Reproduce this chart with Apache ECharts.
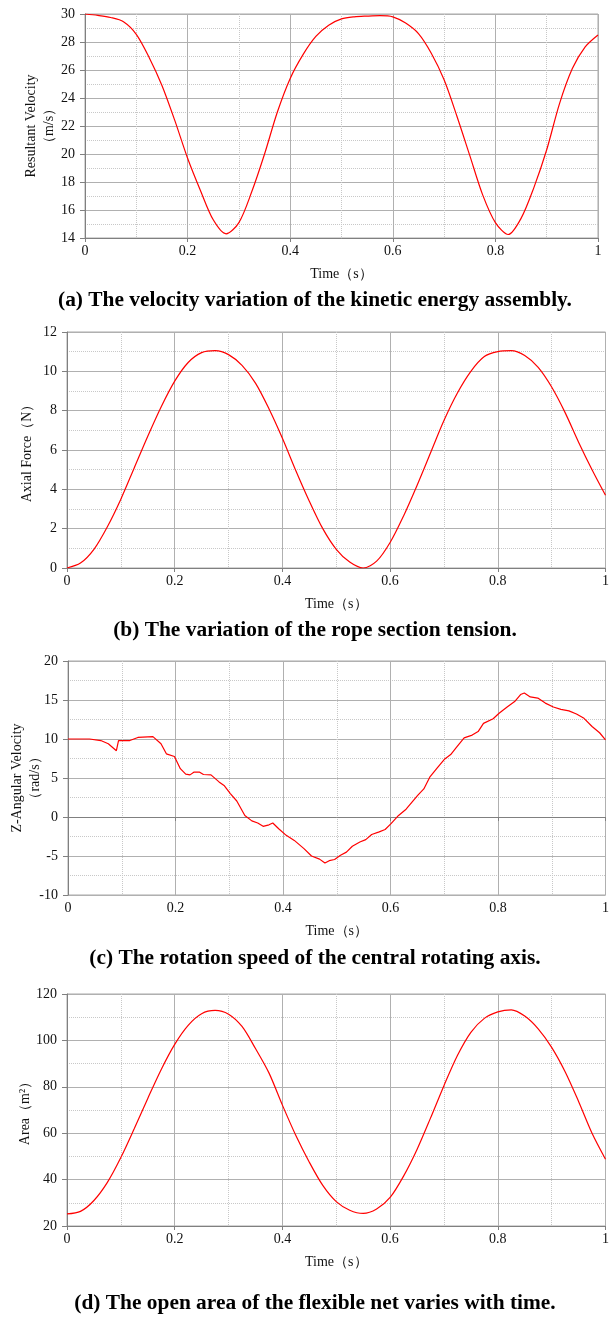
<!DOCTYPE html>
<html>
<head>
<meta charset="utf-8">
<script src="https://cdn.jsdelivr.net/npm/echarts@6/dist/echarts.min.js"></script>
<style>
  html, body { margin: 0; padding: 0; background: #fff; }
  #chart { width: 612px; height: 1317px; }
</style>
</head>
<body>
<div id="chart"></div>
<script>
// time samples (s) for panels a, b, d
const timeSteps = [0, 0.025, 0.05, 0.075, 0.1, 0.125, 0.15, 0.175, 0.2, 0.225, 0.25, 0.275, 0.3, 0.325, 0.35, 0.375, 0.4, 0.425, 0.45, 0.475, 0.5,
  0.525, 0.55, 0.575, 0.6, 0.625, 0.65, 0.675, 0.7, 0.725, 0.75, 0.775, 0.8, 0.825, 0.85, 0.875, 0.9, 0.925, 0.95, 0.975, 1.0]

// (a) resultant velocity, m/s
const velocity = [30.0, 29.9, 29.75, 29.45, 28.55, 26.9, 24.9, 22.4, 19.7, 17.4, 15.3, 14.3, 15.1, 17.3, 20.0, 23.0, 25.4, 27.1, 28.4, 29.2, 29.65,
  29.8, 29.85, 29.88, 29.8, 29.35, 28.6, 27.2, 25.3, 22.7, 19.9, 17.1, 15.1, 14.25, 15.4, 17.6, 20.3, 23.6, 26.1, 27.65, 28.5]

// (b) axial force, N
const axialForce = [0, 0.25, 0.95, 2.1, 3.5, 5.1, 6.7, 8.2, 9.5, 10.45, 10.95, 11.05, 10.85, 10.3, 9.4, 8.1, 6.6, 4.95, 3.4, 2.0, 0.95,
  0.3, 0.0, 0.35, 1.3, 2.65, 4.2, 5.85, 7.5, 8.9, 10.0, 10.75, 11.0, 11.05, 10.8, 10.2, 9.2, 7.9, 6.4, 5.0, 3.7]

// (c) z angular velocity, rad/s (irregular samples)
const timeC = [0, 0.04, 0.061, 0.075, 0.09, 0.094, 0.115, 0.13, 0.158, 0.173, 0.183, 0.198, 0.209, 0.219, 0.227, 0.234, 0.245, 0.252, 0.266,
  0.281, 0.291, 0.302, 0.314, 0.329, 0.342, 0.353, 0.363, 0.374, 0.381, 0.392, 0.406, 0.421, 0.439, 0.453, 0.468, 0.478, 0.486, 0.496,
  0.507, 0.518, 0.529, 0.543, 0.554, 0.565, 0.579, 0.59, 0.601, 0.615, 0.629, 0.64, 0.651, 0.662, 0.673, 0.687, 0.701, 0.712, 0.723,
  0.737, 0.752, 0.763, 0.773, 0.791, 0.802, 0.817, 0.831, 0.842, 0.849, 0.86, 0.874, 0.888, 0.903, 0.917, 0.932, 0.946, 0.96, 0.975, 0.989, 1.0]
const angularVelocity = [10, 10, 9.8, 9.4, 8.5, 9.8, 9.8, 10.2, 10.3, 9.4, 8.1, 7.75, 6.2, 5.5, 5.4, 5.75, 5.75, 5.45, 5.4,
  4.5, 4.0, 3.0, 2.05, 0.2, -0.5, -0.77, -1.2, -1.0, -0.77, -1.5, -2.35, -3.0, -4.05, -5.0, -5.4, -5.9, -5.6, -5.45,
  -4.9, -4.5, -3.75, -3.2, -2.9, -2.25, -1.9, -1.6, -0.85, 0.2, 1.0, 1.9, 2.8, 3.6, 5.1, 6.3, 7.45, 8.0, 8.95,
  10.15, 10.5, 10.95, 12.0, 12.6, 13.3, 14.1, 14.8, 15.7, 15.9, 15.4, 15.25, 14.6, 14.1, 13.8, 13.6, 13.2, 12.65, 11.6, 10.8, 9.9]

// (d) open area of the net, m²
const netArea = [25.2, 26.3, 31, 38.8, 49.5, 62, 75, 87.5, 98.3, 106.5, 111.5, 112.9, 111.3, 106, 96.5, 86, 72.1, 59, 47.5, 37.5, 30.5,
  26.8, 25.4, 27.3, 32.3, 41.5, 53, 66.5, 80.5, 93.5, 103.5, 109.5, 112.3, 113.2, 110.5, 105, 97, 86.5, 73.7, 60, 48.8]

const captions = [
  '(a) The velocity variation of the kinetic energy assembly.',
  '(b) The variation of the rope section tension.',
  '(c) The rotation speed of the central rotating axis.',
  '(d) The open area of the flexible net varies with time.'
]
const yNames = ['Resultant Velocity\n（m/s）', 'Axial Force（N）', 'Z-Angular Velocity\n（rad/s）', 'Area（m²）']
const yRanges = [[14, 30, 2], [0, 12, 2], [-10, 20, 5], [20, 120, 20]]

const FONT = '"Liberation Serif", "Times New Roman", serif'
const chart = echarts.init(document.getElementById('chart'))

const grids = [
  { left: 85, right: 14, top: 14, height: 224 },
  { left: 67, right: 1, top: 332, height: 236 },
  { left: 68, right: 1, top: 661, height: 234 },
  { left: 67, right: 1, top: 994, height: 232 }
]
const yNameGaps = [27, 31, 24, 33]
const captionY = [300, 630, 958, 1303]

const splitSolid = { show: true, lineStyle: { color: '#b0b0b0', width: 1 } }
const splitDotted = { show: true, lineStyle: { color: '#c8c8c8', type: 'dotted', width: 1 } }

const option = {
  backgroundColor: '#fff',
  animation: false,
  grid: grids.map(g => Object.assign({ show: true, borderColor: '#a8a8a8', borderWidth: 1 }, g)),
  xAxis: grids.map((g, i) => ({
    type: 'value', gridIndex: i, min: 0, max: 1, interval: 0.2,
    name: 'Time（s）', nameLocation: 'middle', nameGap: 29, nameMoveOverlap: false,
    nameTextStyle: { fontFamily: FONT, fontSize: 14, color: '#111' },
    axisLine: { show: true, lineStyle: { color: '#808080' } },
    axisTick: { show: true, length: 4, lineStyle: { color: '#808080' } },
    axisLabel: { fontFamily: FONT, fontSize: 14, color: '#111', margin: 6 },
    splitLine: splitSolid,
    minorTick: { show: false, splitNumber: 2 },
    minorSplitLine: splitDotted
  })),
  yAxis: grids.map((g, i) => ({
    type: 'value', gridIndex: i, min: yRanges[i][0], max: yRanges[i][1], interval: yRanges[i][2],
    name: yNames[i], nameLocation: 'middle', nameRotate: 90, nameGap: yNameGaps[i], nameMoveOverlap: false,
    nameTextStyle: { fontFamily: FONT, fontSize: 14, color: '#111', lineHeight: 18 },
    axisLine: { show: true, lineStyle: { color: '#808080' } },
    axisTick: { show: true, length: 5, lineStyle: { color: '#808080' } },
    axisLabel: { fontFamily: FONT, fontSize: 14, color: '#111', margin: 10 },
    splitLine: splitSolid,
    minorTick: { show: false, splitNumber: 2 },
    minorSplitLine: splitDotted
  })),
  graphic: captions.map((c, i) => ({
    type: 'text', x: 315, y: captionY[i],
    style: {
      text: c, font: 'bold 21.4px ' + FONT, fill: '#000',
      textAlign: 'center', textVerticalAlign: 'middle', align: 'center', verticalAlign: 'middle'
    }
  })),
  series: [
    { data: timeSteps.map((t, k) => [t, velocity[k]]), smooth: 0.3 },
    { data: timeSteps.map((t, k) => [t, axialForce[k]]), smooth: 0.3 },
    { data: timeC.map((t, k) => [t, angularVelocity[k]]), smooth: false },
    { data: timeSteps.map((t, k) => [t, netArea[k]]), smooth: 0.3 }
  ].map((s, i) => Object.assign({
    type: 'line', xAxisIndex: i, yAxisIndex: i, showSymbol: false,
    lineStyle: { color: '#ff0000', width: 1.2 }
  }, s))
}
chart.setOption(option)
</script>
</body>
</html>
